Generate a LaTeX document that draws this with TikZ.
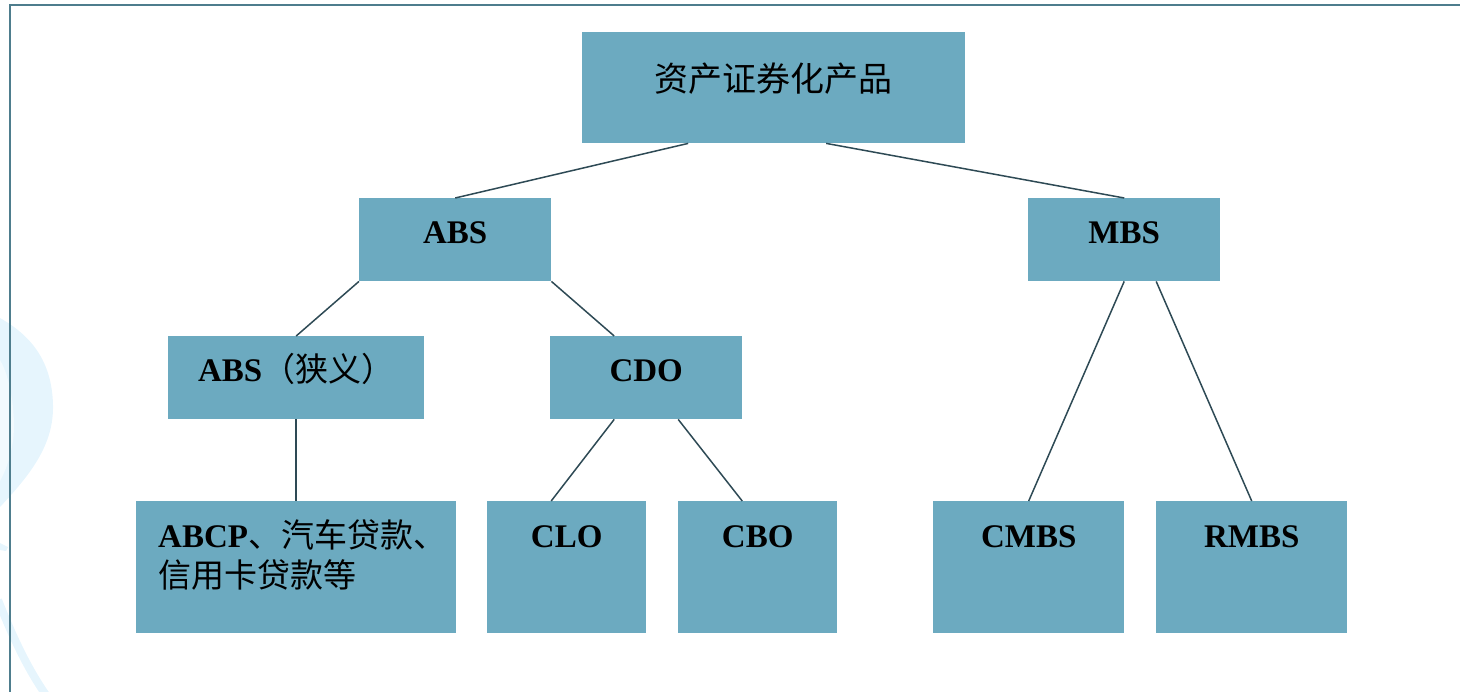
\documentclass[tikz,border=0pt]{standalone}
\usepackage{fontspec}
\setmainfont{Liberation Serif}
\newfontfamily\cjkfam{Noto Sans CJK SC}
\newcommand{\cjk}{\cjkfam\mdseries}
\definecolor{boxc}{HTML}{6CAAC0}
\definecolor{linec}{HTML}{2E4A55}
\definecolor{framec}{HTML}{4E7D8D}
\definecolor{swirl}{HTML}{E6F5FD}
\definecolor{swirlin}{HTML}{F2FAFE}
\begin{document}
\begin{tikzpicture}[x=1pt,y=-1pt,
  box/.style={fill=boxc, draw=none, anchor=north west, inner sep=0pt,
    font=\fontsize{33}{41}\selectfont\bfseries, align=center},
  conn/.style={draw=linec, line width=1.5pt}]
\useasboundingbox (0,0) rectangle (1460,692);
% background decoration
\fill[swirl] (0,318) .. controls (30,335) and (52,360) .. (53,405)
  .. controls (54,445) and (30,475) .. (0,507) -- cycle;
\fill[swirlin] (0,360) .. controls (12,380) and (16,420) .. (13,441)
  .. controls (10,460) and (5,472) .. (0,481) -- cycle;
\fill[swirl] (0,543) -- (8,547) -- (6,551) -- (0,550) -- cycle;
\draw[swirl, line width=8pt] (-2,600) .. controls (10,630) and (25,665) .. (46,695);
% frame
\draw[framec, line width=2.5pt] (10,692) -- (10,5) -- (1460,5);
% boxes
\node[box, minimum width=383pt, text width=360pt, text height=59pt, text depth=52pt,
  font=\fontsize{34}{41}\selectfont]
  (top) at (582,32) {\cjk 资产证券化产品};
\node[box, minimum width=192pt, text width=180pt, text height=45pt, text depth=38pt]
  (abs) at (359,198) {ABS};
\node[box, minimum width=192pt, text width=180pt, text height=45pt, text depth=38pt]
  (mbs) at (1028,198) {MBS};
\node[box, minimum width=256pt, text width=240pt, text height=45pt, text depth=38pt]
  (absn) at (168,336) {ABS{\cjk （狭义）}};
\node[box, minimum width=192pt, text width=180pt, text height=45pt, text depth=38pt]
  (cdo) at (550,336) {CDO};
\node[box, minimum width=320pt, text width=276pt, text height=46pt, text depth=86pt, align=left]
  (abcp) at (136,501) {ABCP{\cjk 、汽车贷款、}\\[-1pt]{\cjk 信用卡贷款等}};
\node[box, minimum width=159pt, text width=150pt, text height=46pt, text depth=86pt]
  (clo) at (487,501) {CLO};
\node[box, minimum width=159pt, text width=150pt, text height=46pt, text depth=86pt]
  (cbo) at (678,501) {CBO};
\node[box, minimum width=191pt, text width=180pt, text height=46pt, text depth=86pt]
  (cmbs) at (933,501) {CMBS};
\node[box, minimum width=191pt, text width=180pt, text height=46pt, text depth=86pt]
  (rmbs) at (1156,501) {RMBS};
% connectors
\draw[conn] ([xshift=-85.5pt]top.south) -- (abs.north);
\draw[conn] ([xshift=52.5pt]top.south) -- (mbs.north);
\draw[conn] (abs.south west) -- (absn.north);
\draw[conn] (abs.south east) -- ([xshift=-32pt]cdo.north);
\draw[conn] (absn.south) -- (abcp.north);
\draw[conn] ([xshift=-32pt]cdo.south) -- ([xshift=-15.5pt]clo.north);
\draw[conn] ([xshift=32pt]cdo.south) -- ([xshift=-15.5pt]cbo.north);
\draw[conn] (mbs.south) -- (cmbs.north);
\draw[conn] ([xshift=32pt]mbs.south) -- (rmbs.north);
\end{tikzpicture}
\end{document}
